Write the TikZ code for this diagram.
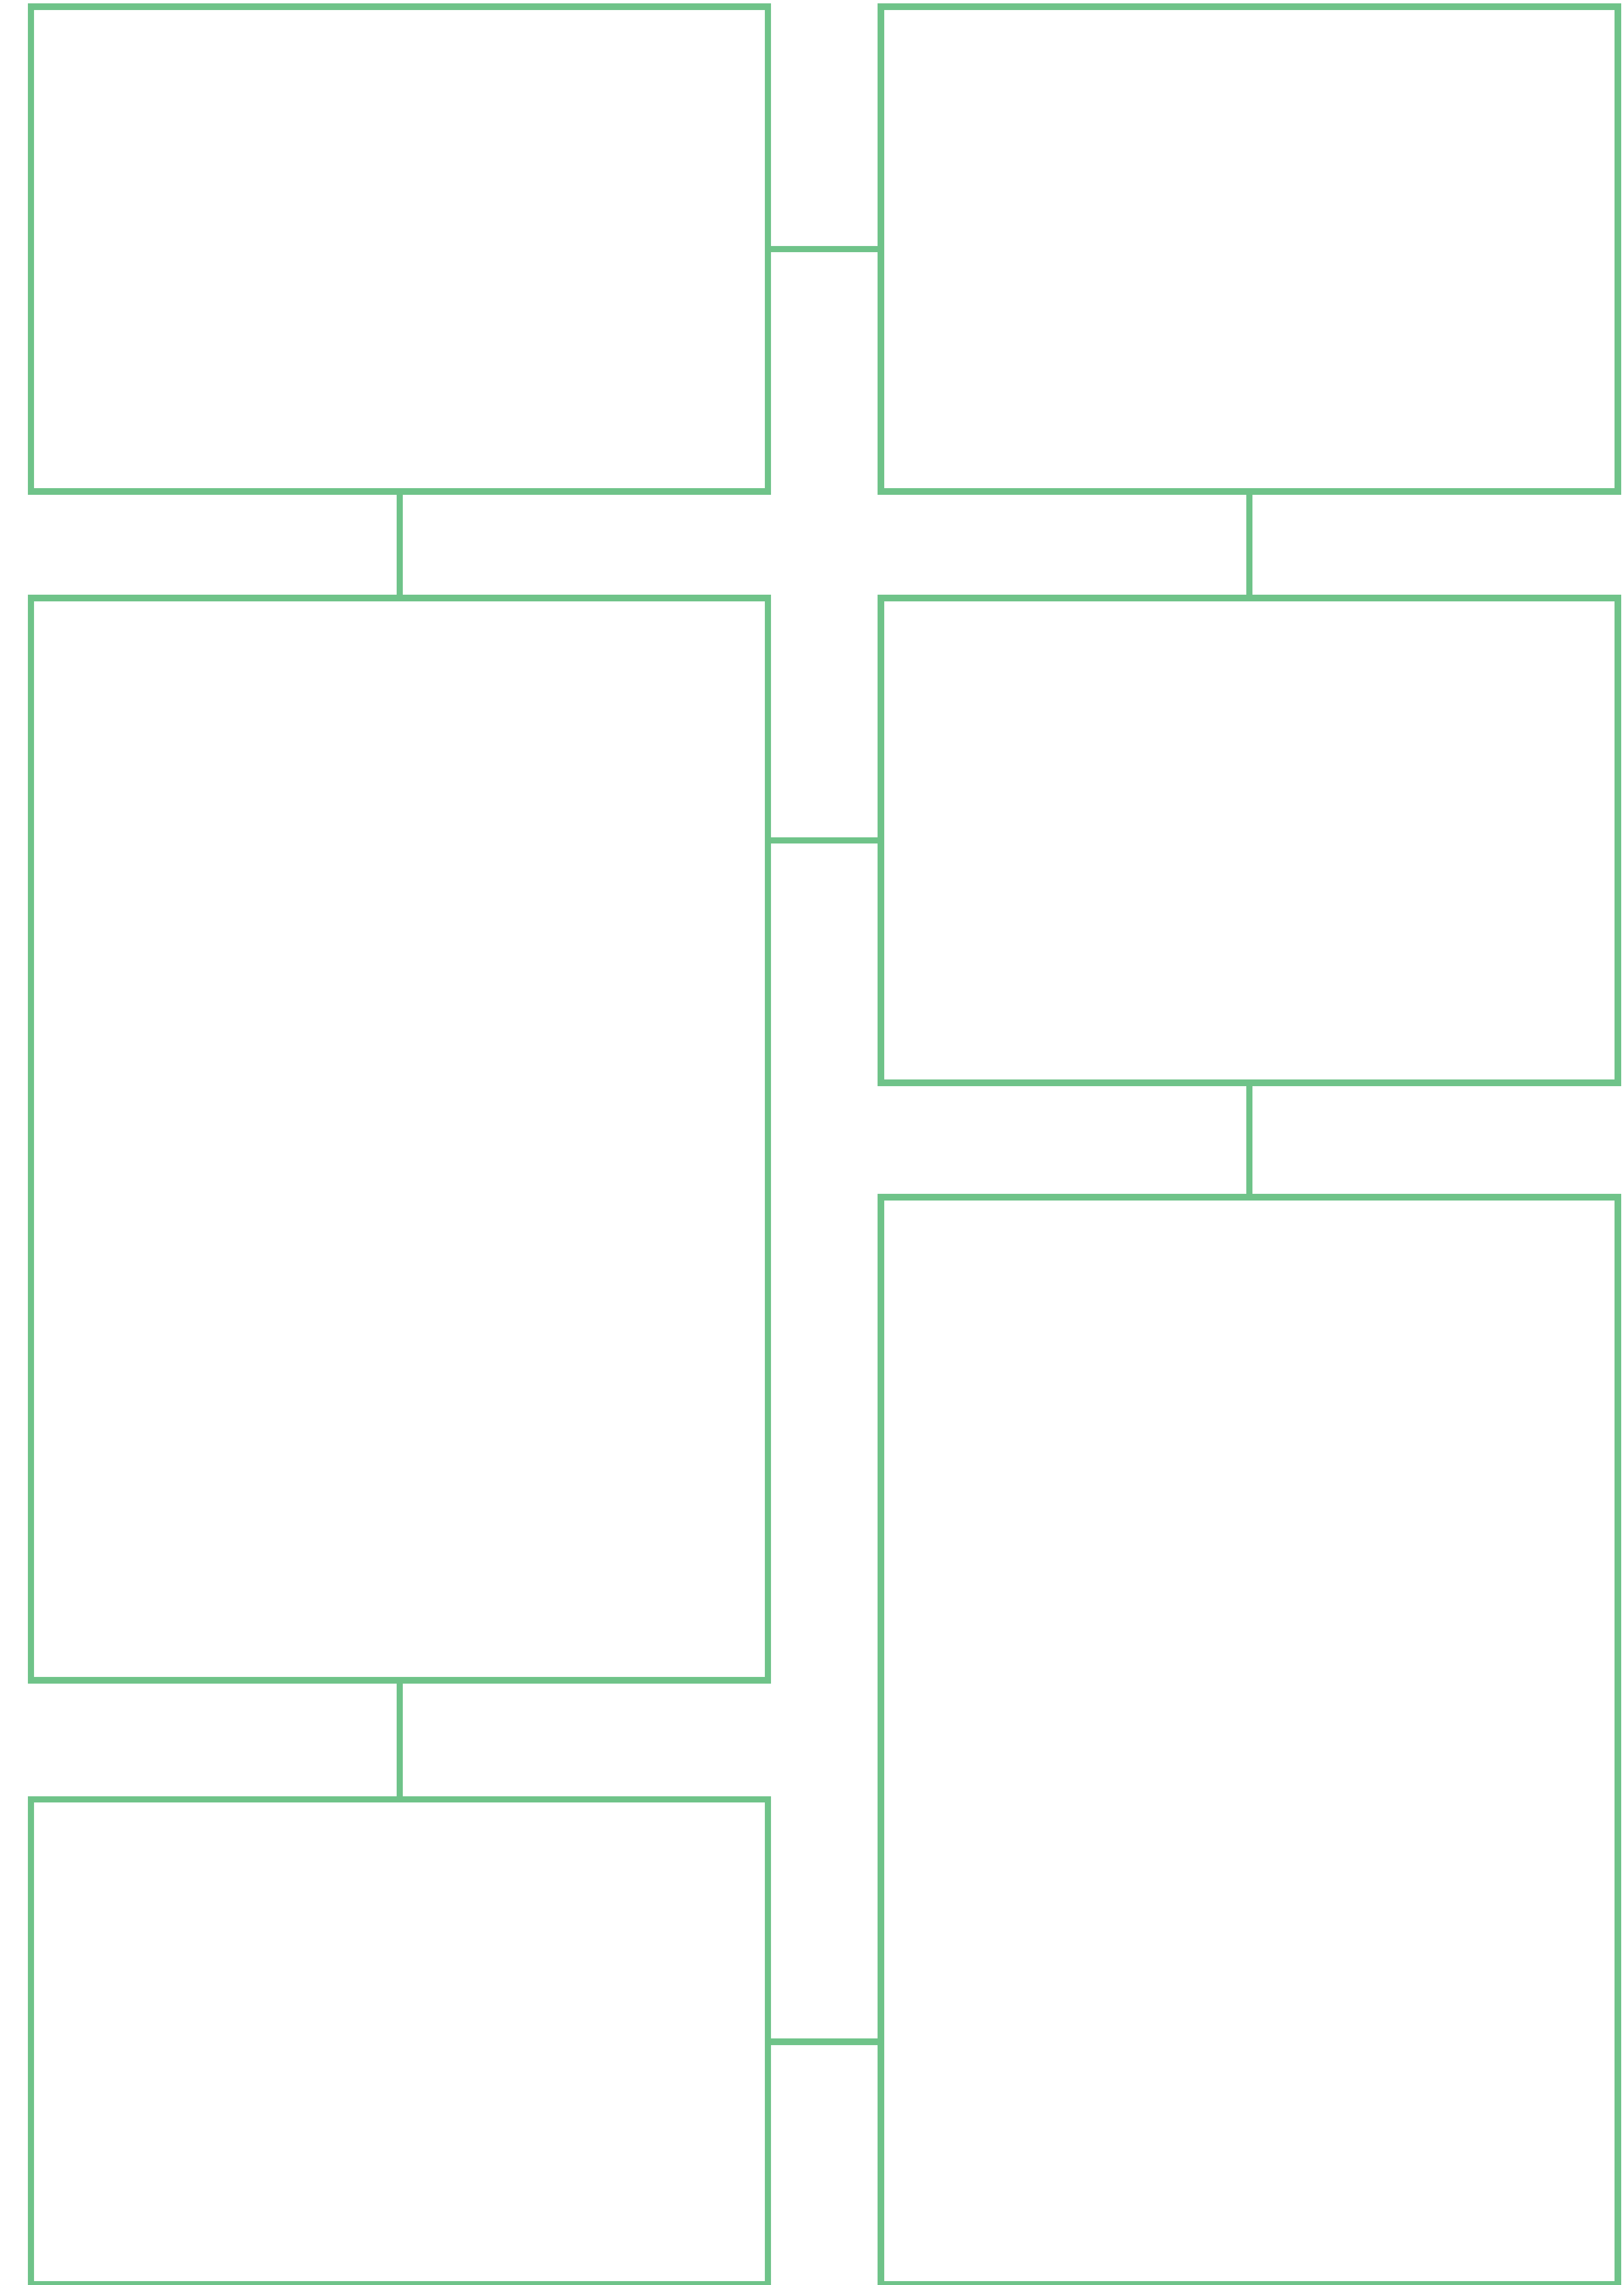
\documentclass[tikz,border=0pt]{standalone}
\usepackage{xcolor}
\usepackage{tikz}
\usetikzlibrary{positioning}
\definecolor{framegreen}{RGB}{111,195,137}

\begin{document}
\begin{tikzpicture}[
    conbox/.style={draw=framegreen, line width=0.16cm, rectangle, inner sep=0pt, outer sep=0pt, minimum width=18.5cm},
    link/.style={draw=framegreen, line width=0.16cm}
]
\fill[white] (0,0) rectangle (40.76,-57.36);
\useasboundingbox (0,0) rectangle (40.76,-57.36);
\node[conbox, minimum height=12.17cm, anchor=north west] (conA) at (0.78,-0.17) {};
\node[conbox, minimum height=12.17cm, right=2.83cm of conA] (conB) {};
\node[conbox, minimum height=27.17cm, below=2.67cm of conA] (conC) {};
\node[conbox, minimum height=12.17cm, below=2.67cm of conB] (conD) {};
\node[conbox, minimum height=27.29cm, below=2.87cm of conD] (conE) {};
\node[conbox, minimum height=12.17cm, below=2.99cm of conC] (conF) {};
\draw[link] (conA) -- (conB);
\draw[link] (conA) -- (conC);
\draw[link] (conB) -- (conD);
\draw[link] (conD.west) -- (conD.west -| conC.east);
\draw[link] (conC) -- (conF);
\draw[link] (conD) -- (conE);
\draw[link] (conF.east) -- (conF.east -| conE.west);
\end{tikzpicture}
\end{document}
